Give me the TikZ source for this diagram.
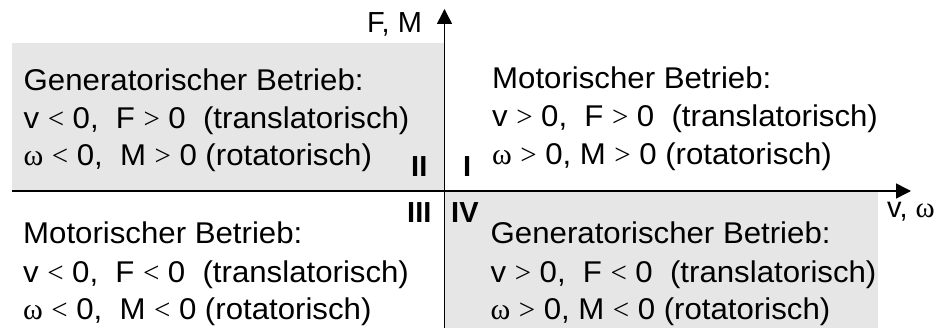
\documentclass[tikz,border=0pt]{standalone}
\usepackage{fontspec}
\setmainfont{Liberation Sans}
\newfontfamily\bodyfont[FakeStretch=1.04]{Liberation Sans}
\newfontfamily\grk{Liberation Serif}
\usetikzlibrary{arrows.meta}
\definecolor{quadgray}{RGB}{230,230,230}
\newcommand{\om}{{\grk ω}}
\newcommand{\rel}[1]{\hspace{8.5pt}{\grk\fontsize{29}{29}\selectfont #1}\hspace{8.5pt}}
\newcommand{\rlt}{\rel{<}}
\newcommand{\rgt}{\rel{>}}
\tikzset{
  txt/.style={anchor=base west, inner sep=0pt, font=\bodyfont\fontsize{30}{36}\selectfont},
  lbl/.style={anchor=base west, inner sep=0pt, font=\fontsize{29}{34}\selectfont},
  num/.style={anchor=base west, inner sep=0pt, font=\fontsize{29}{34}\selectfont\bfseries},
  axis/.style={line width=1.5pt, -{Triangle[length=15pt,width=15pt]}}
}
\begin{document}
\begin{tikzpicture}[x=1pt,y=-1pt]
\useasboundingbox (0,0) rectangle (943,328);
\fill[quadgray] (12,43) rectangle (444.5,191);
\fill[quadgray] (444.5,191) rectangle (878,328);
\coordinate (xs) at (12,191);
\coordinate (xe) at (911,191);
\coordinate (ys) at (444.5,328);
\coordinate (ye) at (444.5,9);
\draw[axis] (xs) -- (xe);
\draw[axis] (ys) -- (ye);
\node[lbl] (fm) at (367,33) {F, M};
\node[lbl] (vw) at (887,218) {v,\ \om};
% quadrant II
\node[txt] (a1) at (23.5,91) {Generatorischer Betrieb:};
\node[txt] (a2) at (23.5,128.5) {v\rlt 0,\ \ F\rgt 0\ \ (translatorisch)};
\node[txt] (a3) at (23.5,166) {\om\rlt 0,\ \ M\rgt 0\ (rotatorisch)};
% quadrant I
\node[txt] (b1) at (492,89) {Motorischer Betrieb:};
\node[txt] (b2) at (492,127) {v\rgt 0,\ \ F\rgt 0\ \ (translatorisch)};
\node[txt] (b3) at (492,165) {\om\rgt 0, M\rgt 0\ (rotatorisch)};
% quadrant III
\node[txt] (c1) at (23,244) {Motorischer Betrieb:};
\node[txt] (c2) at (23,283) {v\rlt 0,\ \ F\rlt 0\ \ (translatorisch)};
\node[txt] (c3) at (23,320) {\om\rlt 0,\ \ M\rlt 0\ (rotatorisch)};
% quadrant IV
\node[txt] (d1) at (490.5,244) {Generatorischer Betrieb:};
\node[txt] (d2) at (490.5,283) {v\rgt 0,\ \ F\rlt 0\ \ (translatorisch)};
\node[txt] (d3) at (490.5,320) {\om\rgt 0, M\rlt 0\ (rotatorisch)};
% numerals
\node[num] (nII) at (411,177) {II};
\node[num] (nI) at (463,177) {I};
\node[num] (nIII) at (407,223) {III};
\node[num] (nIV) at (451,223) {IV};
\end{tikzpicture}
\end{document}
